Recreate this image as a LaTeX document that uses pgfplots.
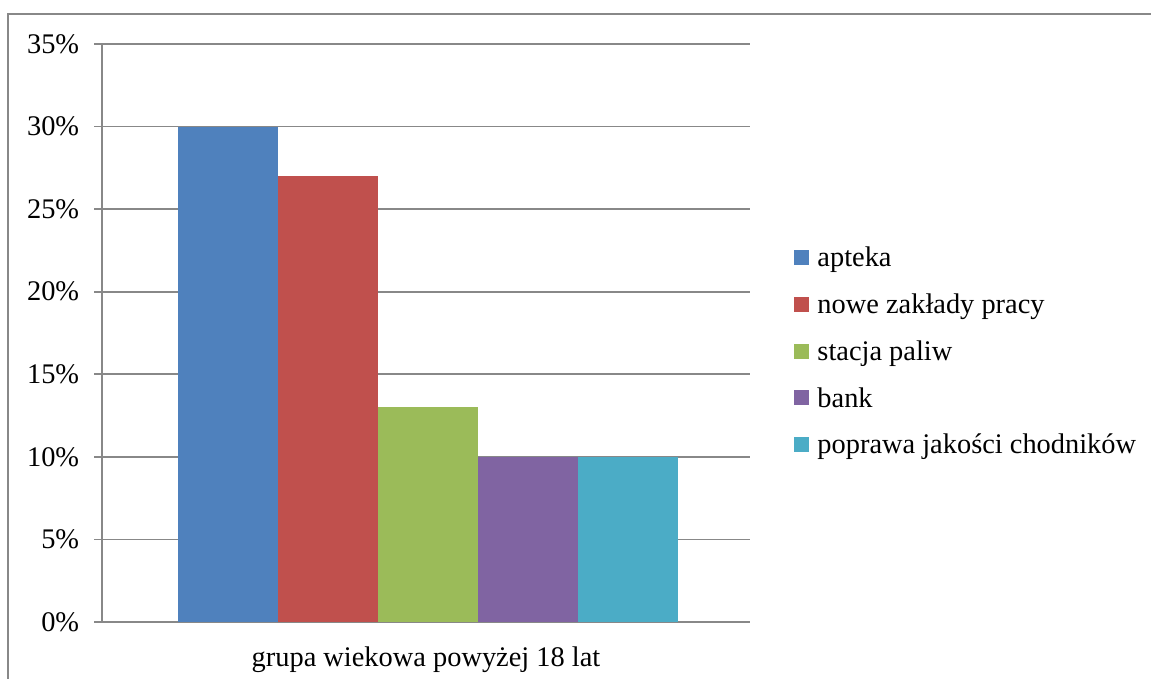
\documentclass[border=0pt]{standalone}
\usepackage{pgfplots}
\pgfplotsset{compat=1.18}
\usepackage{fontspec}
\setmainfont{Liberation Serif}
\definecolor{c1}{HTML}{4F81BD}
\definecolor{c2}{HTML}{C0504D}
\definecolor{c3}{HTML}{9BBB59}
\definecolor{c4}{HTML}{8064A2}
\definecolor{c5}{HTML}{4BACC6}
\definecolor{gl}{HTML}{888888}
\begin{document}
\fontsize{14.2pt}{16pt}\selectfont
\begin{tikzpicture}
\path[use as bounding box] (0,0) rectangle (575.5pt,339.5pt);
\draw[gl, line width=1pt] (4pt,0) -- (4pt,332.5pt) -- (575.5pt,332.5pt);
\begin{axis}[
  at={(51pt,28.5pt)}, anchor=south west,
  scale only axis, width=324pt, height=289pt,
  ymin=0, ymax=35, xmin=-1.006, xmax=0.994,
  ybar=0pt, bar width=50pt,
  axis lines*=left,
  axis line style={gl, line width=0.8pt},
  ytick={0,5,10,15,20,25,30,35},
  yticklabels={0\%,5\%,10\%,15\%,20\%,25\%,30\%,35\%},
  ymajorgrids, grid style={gl, line width=0.8pt},
  ytick style={gl, line width=0.8pt},
  tick align=outside, major tick length=4pt,
  xtick={-0.006}, xticklabels={grupa wiekowa powyżej 18 lat},
  xtick style={draw=none},
  extra x ticks={-1.006,0.994}, extra x tick labels={},
  extra x tick style={xtick style={gl, line width=0.8pt}, major tick length=4pt},
  yticklabel style={font=\fontsize{14.2pt}{16pt}\selectfont, xshift=-2.5pt},
  xticklabel style={font=\fontsize{14.2pt}{16pt}\selectfont, yshift=-3.5pt},
  legend style={draw=none, at={(1.068,0.466)}, anchor=west,
    font=\fontsize{14.2pt}{16pt}\selectfont, row sep=7.4pt,
    legend cell align=left, inner sep=0pt},
  legend image code/.code={\fill[#1] (0pt,-3.0pt) rectangle (7.5pt,4.5pt); \path (9.5pt,0pt);},
  every axis plot/.append style={draw=none},
]
\addplot[fill=c1] coordinates {(0,30)};
\addplot[fill=c2] coordinates {(0,27)};
\addplot[fill=c3] coordinates {(0,13)};
\addplot[fill=c4] coordinates {(0,10)};
\addplot[fill=c5] coordinates {(0,10)};
\legend{apteka, nowe zakłady pracy, stacja paliw, bank, poprawa jakości chodników}
\end{axis}
\end{tikzpicture}
\end{document}
